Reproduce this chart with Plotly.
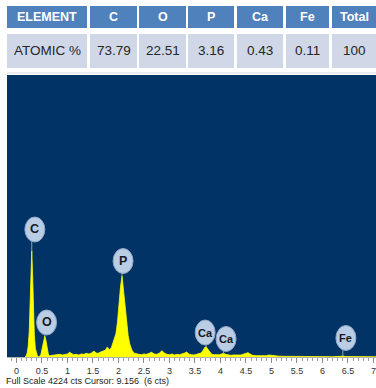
import plotly.graph_objects as go

# ---- composition table ----
table_header = ["ELEMENT", "C", "O", "P", "Ca", "Fe", "Total"]
table_row = ["ATOMIC %", "73.79", "22.51", "3.16", "0.43", "0.11", "100"]

# ---- EDS spectrum (energy in keV, intensity in counts) ----
energy_kev = [
    0.17, 0.19, 0.21, 0.23, 0.25, 0.27, 0.285, 0.30, 0.315, 0.33, 0.35, 0.37, 0.39, 0.41, 0.43,
    0.45, 0.48, 0.51, 0.535, 0.555, 0.575, 0.60, 0.625, 0.65,
    0.70, 0.75, 0.80, 0.85, 0.90, 0.95, 1.00, 1.04, 1.08, 1.12, 1.17, 1.22, 1.27, 1.32, 1.37,
    1.42, 1.47, 1.52, 1.56, 1.60, 1.65, 1.70, 1.74, 1.78, 1.82, 1.86,
    1.90, 1.95, 1.98, 2.01, 2.04, 2.07, 2.10, 2.13, 2.16, 2.19, 2.22, 2.26, 2.30, 2.35,
    2.40, 2.45, 2.50, 2.55, 2.60, 2.65, 2.70, 2.75, 2.80, 2.85, 2.90, 2.95, 3.00, 3.05,
    3.10, 3.15, 3.20, 3.25, 3.30, 3.34, 3.38, 3.43, 3.48, 3.53, 3.58, 3.62, 3.66, 3.70,
    3.72, 3.75, 3.79, 3.83, 3.88, 3.93, 3.98, 4.02, 4.06, 4.10, 4.15, 4.20, 4.25, 4.30,
    4.35, 4.40, 4.45, 4.50, 4.54, 4.58, 4.63, 4.70, 4.80, 4.90, 4.95, 5.00, 5.05, 5.15,
    5.25, 5.40, 5.60, 5.80, 6.00, 6.20, 6.35, 6.40, 6.45, 6.60, 6.80, 7.05,
]
counts = [
    0, 20, 60, 160, 380, 800, 1300, 1590, 1250, 750, 330, 130, 45, 15, 8,
    5, 40, 150, 270, 315, 260, 130, 40, 20,
    25, 35, 30, 40, 30, 35, 45, 70, 50, 35, 40, 30, 45, 40, 55,
    45, 60, 90, 60, 55, 75, 90, 100, 150, 110, 140,
    220, 350, 520, 800, 1050, 1215, 1000, 720, 500, 320, 200, 110, 60, 45,
    40, 35, 45, 40, 50, 70, 45, 40, 55, 95, 60, 40, 35, 45,
    30, 40, 35, 45, 60, 75, 45, 35, 30, 40, 45, 60, 100, 150,
    150, 120, 70, 40, 35, 30, 35, 45, 55, 40, 30, 25, 30, 25,
    30, 30, 40, 55, 65, 45, 25, 20, 15, 20, 30, 25, 15, 12,
    10, 8, 8, 6, 6, 5, 10, 15, 8, 5, 5, 4,
]

# ---- peak identification markers ----
peak_names = ["C", "O", "P", "Ca", "Ca", "Fe"]
peak_kev = [0.30, 0.555, 2.07, 3.72, 4.06, 6.40]
peak_counts = [1590, 315, 1215, 150, 55, 15]
marker_kev = [0.36, 0.59, 2.09, 3.70, 4.11, 6.46]
marker_counts = [1910, 517, 1438, 367, 270, 285]

full_scale = 4224
axis_ticks = [0, 0.5, 1, 1.5, 2, 2.5, 3, 3.5, 4, 4.5, 5, 5.5, 6, 6.5, 7]
caption = "Full Scale 4224 cts Cursor: 9.156  (6 cts)"

W, H = 376, 388
fig = go.Figure()

fig.add_trace(go.Scatter(
    x=energy_kev, y=counts, mode="lines", fill="tozeroy",
    line=dict(color="#ffff00", width=0.8), fillcolor="#ffff00",
    hoverinfo="skip", showlegend=False,
))

shapes = []
annotations = []

# table drawn as coloured cells
col_left = [7, 90, 139, 188, 237, 286, 332]
col_right = [87, 137, 186, 234, 283, 329, 378]
rows = [(6, 28, table_header, "#4f81bd", "white", 12.5, True),
        (34, 68, table_row, "#d0d8e8", "#262626", 13.5, False)]
for top, bottom, values, fill, fcolor, fsize, bold in rows:
    for i, val in enumerate(values):
        shapes.append(dict(type="rect", xref="paper", yref="paper",
                           x0=col_left[i] / W, x1=col_right[i] / W,
                           y0=1 - bottom / H, y1=1 - top / H,
                           fillcolor=fill, line=dict(width=0), layer="above"))
        annotations.append(dict(
            xref="paper", yref="paper",
            x=(col_left[i] + min(col_right[i], W)) / 2 / W,
            y=1 - (top + bottom) / 2 / H,
            text=f"<b>{val}</b>" if bold else val, showarrow=False,
            font=dict(family="Liberation Sans, Arial, sans-serif", size=fsize, color=fcolor),
            xanchor="center", yanchor="middle",
        ))
shapes.append(dict(type="line", xref="paper", yref="paper",
                   x0=7 / W, x1=1, y0=1 - 73 / H, y1=1 - 73 / H,
                   line=dict(color="#e4e6ea", width=1.5)))

# peak labels: leader line + ellipse + element symbol
for name, pk, pc, mk, mc in zip(peak_names, peak_kev, peak_counts, marker_kev, marker_counts):
    shapes.append(dict(type="line", xref="x", yref="y", x0=pk, x1=pk, y0=pc, y1=mc,
                       line=dict(color="#9aa87a", width=1)))
for name, mk, mc in zip(peak_names, marker_kev, marker_counts):
    shapes.append(dict(type="circle", xref="x", yref="y",
                       xsizemode="pixel", ysizemode="pixel",
                       xanchor=mk, yanchor=mc, x0=-10, x1=10, y0=-12.5, y1=12.5,
                       fillcolor="#b9cde5", line=dict(color="#8fa6c4", width=1)))
    annotations.append(dict(x=mk, y=mc, xref="x", yref="y", text=f"<b>{name}</b>",
                            showarrow=False,
                            font=dict(family="Liberation Sans, Arial, sans-serif",
                                      size=12.5 if len(name) == 1 else 11,
                                      color="#1a1a1a")))

annotations.append(dict(xref="paper", yref="paper", x=4 / W, y=1 - 381 / H,
                        text=caption, showarrow=False, xanchor="left", yanchor="middle",
                        font=dict(family="Liberation Sans Narrow, Arial Narrow, sans-serif",
                                  size=9, color="#222")))

fig.update_layout(
    width=W, height=H,
    margin=dict(l=0, r=0, t=0, b=0),
    paper_bgcolor="white",
    plot_bgcolor="#013366",
    shapes=shapes,
    annotations=annotations,
    xaxis=dict(
        domain=[7 / W, 1], range=[-0.186, 7.05],
        tickvals=axis_ticks, ticktext=[f"{t:g}" for t in axis_ticks],
        ticks="outside", ticklen=5, tickwidth=1, tickcolor="#8c8c8c",
        minor=dict(dtick=0.1, tick0=0, ticks="outside", ticklen=3, tickcolor="#a0a0a0"),
        showgrid=False, zeroline=False, showline=True, linecolor="#b0b0b0", linewidth=1,
        tickfont=dict(family="Liberation Sans Narrow, Arial Narrow, sans-serif",
                      size=9, color="#333"),
        fixedrange=True,
    ),
    yaxis=dict(
        domain=[1 - 357 / H, 1 - 75 / H], range=[0, full_scale],
        visible=False, showgrid=False, zeroline=False, fixedrange=True,
    ),
)

fig.write_html("out.html")
